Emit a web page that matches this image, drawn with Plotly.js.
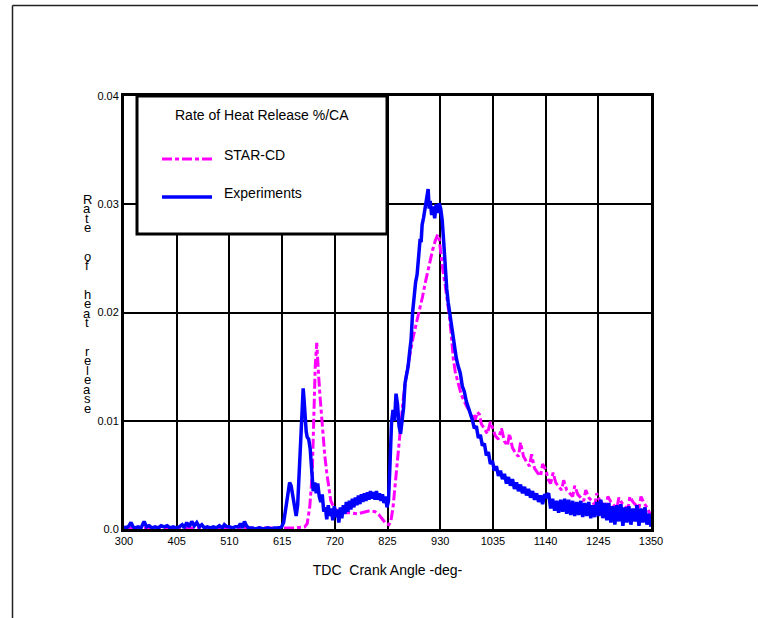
<!DOCTYPE html>
<html>
<head>
<meta charset="utf-8">
<script src="https://cdn.plot.ly/plotly-3.0.1.min.js"></script>
<style>html,body{margin:0;padding:0;background:#fff;}#chart{width:758px;height:618px;}</style>
</head>
<body>
<div id="chart"></div>
<script>
// Experiments (blue)
const expX = [300,305,310,314,318,322,328,334,340,345,350,356,362,368,374,380,386,392,398,404,410,416,420,425,430,435,440,445,450,455,460,466,472,478,484,490,496,500,505,510,516,522,528,532,536,540,544,548,555,562,570,578,586,594,600,608,614,618,622,626,630,633,636,640,643,646,649,652,655,657,659,661,663,665,668,671,674,677,680,683,686,689,692,695,698,701,704,707,710,713,716,719,722,725,728,731,734,737,740,743,746,749,752,755,758,761,764,767,770,773,776,779,782,785,788,791,794,797,800,803,806,809,812,815,818,821,824,827,830,833,836,839,842,845,848,851,854,857,860,863,866,869,872,875,878,881,884,887,890,892,894,897,900,903,906,908,910,913,916,919,922,925,928,931,934,937,940,943,946,950,954,958,962,966,970,974,978,982,986,990,994,998,1002,1006,1010,1014,1018,1022,1026,1030,1034,1038,1042,1046,1050,1054,1058,1062,1066,1070,1074,1078,1082,1086,1090,1094,1098,1102,1106,1110,1114,1118,1122,1126,1130,1134,1138,1142,1146,1150,1154,1158,1162,1166,1170,1174,1178,1182,1186,1190,1194,1198,1202,1206,1210,1214,1218,1222,1226,1230,1234,1238,1242,1246,1250,1254,1258,1262,1266,1270,1274,1278,1282,1286,1290,1294,1298,1302,1306,1310,1314,1318,1322,1326,1330,1334,1338,1342,1346,1350];
const expY = [0.0002,0.0001,0.0003,0.0006,0.0002,0.0001,0.0002,0.0001,0.0007,0.0002,0.0003,0.0001,0.0002,0.0001,0.0003,0.0002,0.0003,0.0001,0.0002,0.0001,0.0002,0.0004,0.0001,0.0006,0.0002,0.0007,0.0003,0.0006,0.0002,0.0004,0.0001,0.0002,0.0001,0.0002,0.0001,0.0003,0.0001,0.0004,0.0002,0.0002,0.0001,0.0002,0.0002,0.0005,0.0001,0.0007,0.0003,0.0001,0.0001,0.0000,0.0001,0.0000,0.0001,0.0000,0.0001,0.0001,0.0002,0.0006,0.0018,0.0033,0.0043,0.0040,0.0030,0.0018,0.0012,0.0022,0.0055,0.0090,0.0122,0.0130,0.0118,0.0100,0.0090,0.0085,0.0083,0.0074,0.0050,0.0035,0.0043,0.0033,0.0042,0.0030,0.0025,0.0032,0.0016,0.0020,0.0009,0.0022,0.0012,0.0019,0.0008,0.0021,0.0011,0.0018,0.0006,0.0020,0.0010,0.0022,0.0014,0.0025,0.0016,0.0026,0.0018,0.0028,0.0020,0.0029,0.0022,0.0031,0.0023,0.0032,0.0025,0.0033,0.0026,0.0034,0.0027,0.0035,0.0028,0.0034,0.0027,0.0035,0.0027,0.0033,0.0026,0.0032,0.0024,0.0030,0.0020,0.0026,0.0060,0.0098,0.0110,0.0100,0.0125,0.0115,0.0095,0.0088,0.0100,0.0112,0.0135,0.0142,0.0150,0.0163,0.0175,0.0200,0.0215,0.0228,0.0235,0.0252,0.0268,0.0265,0.0281,0.0288,0.0296,0.0305,0.0314,0.0296,0.0303,0.0290,0.0298,0.0287,0.0300,0.0292,0.0301,0.0296,0.0285,0.0265,0.0240,0.0222,0.0209,0.0195,0.0182,0.0170,0.0158,0.0150,0.0144,0.0132,0.0127,0.0118,0.0113,0.0106,0.0101,0.0093,0.0095,0.0084,0.0087,0.0077,0.0079,0.0068,0.0071,0.0060,0.0063,0.0054,0.0058,0.0049,0.0054,0.0046,0.0051,0.0042,0.0048,0.0040,0.0046,0.0037,0.0043,0.0035,0.0041,0.0033,0.0039,0.0031,0.0037,0.0029,0.0035,0.0027,0.0033,0.0025,0.0031,0.0023,0.0032,0.0030,0.0033,0.0019,0.0028,0.0017,0.0026,0.0015,0.0027,0.0016,0.0028,0.0014,0.0027,0.0013,0.0026,0.0012,0.0025,0.0013,0.0026,0.0011,0.0024,0.0012,0.0025,0.0010,0.0022,0.0011,0.0025,0.0012,0.0027,0.0010,0.0024,0.0008,0.0024,0.0006,0.0021,0.0004,0.0022,0.0007,0.0023,0.0003,0.0020,0.0006,0.0021,0.0004,0.0019,0.0007,0.0022,0.0003,0.0019,0.0006,0.0020,0.0004,0.0014,0.0002];

// STAR-CD (magenta)
const starX = [300,350,400,450,500,550,600,640,660,665,670,675,678,681,684,686,688,691,694,697,700,704,708,712,718,724,735,750,765,780,790,800,808,815,822,828,832,836,840,844,848,852,856,860,865,870,876,883,890,895,900,905,910,915,920,925,928,931,935,940,944,948,952,956,960,964,968,972,976,980,984,988,992,996,1000,1004,1008,1012,1016,1020,1024,1030,1034,1040,1046,1052,1058,1064,1068,1074,1080,1086,1090,1096,1102,1108,1112,1118,1124,1130,1134,1140,1146,1150,1155,1160,1166,1172,1176,1182,1188,1194,1198,1204,1210,1216,1220,1226,1232,1238,1242,1248,1254,1260,1264,1270,1276,1282,1286,1292,1298,1304,1308,1314,1320,1326,1330,1336,1342,1348,1350];
const starY = [0.0001,0.0001,0.0001,0.0001,0.0001,0.0001,0.0001,0.0001,0.0002,0.0005,0.0020,0.0050,0.0100,0.0150,0.0172,0.0160,0.0140,0.0120,0.0100,0.0085,0.0068,0.0052,0.0036,0.0026,0.0020,0.0017,0.0015,0.0015,0.0014,0.0016,0.0017,0.0016,0.0013,0.0009,0.0005,0.0004,0.0008,0.0020,0.0040,0.0062,0.0085,0.0100,0.0118,0.0135,0.0150,0.0162,0.0177,0.0190,0.0203,0.0215,0.0227,0.0238,0.0249,0.0258,0.0266,0.0272,0.0268,0.0255,0.0240,0.0225,0.0212,0.0198,0.0180,0.0158,0.0145,0.0138,0.0130,0.0124,0.0120,0.0115,0.0112,0.0110,0.0104,0.0106,0.0101,0.0108,0.0106,0.0097,0.0094,0.0090,0.0088,0.0099,0.0094,0.0086,0.0083,0.0093,0.0081,0.0077,0.0088,0.0075,0.0070,0.0067,0.0080,0.0067,0.0062,0.0058,0.0069,0.0056,0.0052,0.0049,0.0060,0.0055,0.0045,0.0042,0.0052,0.0043,0.0039,0.0036,0.0045,0.0036,0.0033,0.0030,0.0040,0.0032,0.0029,0.0026,0.0036,0.0029,0.0026,0.0022,0.0033,0.0026,0.0023,0.0020,0.0030,0.0025,0.0022,0.0019,0.0029,0.0024,0.0021,0.0018,0.0030,0.0025,0.0022,0.0019,0.0030,0.0024,0.0020,0.0015,0.0012];

const xTicks = [300,405,510,615,720,825,930,1035,1140,1245,1350];
const yTicks = [0,0.01,0.02,0.03,0.04];
const yTickText = ['0.0','0.01','0.02','0.03','0.04'];
const yTitleLetters = ['R','a','t','e','','','o','f','','','h','e','a','t','','','r','e','l','e','a','s','e'];

const L = 124, R = 651, T = 96, B = 529, W = 758, H = 618;
const px = v => (v - L) / (R - L);
const py = v => (B - v) / (B - T);

const traces = [
  {x: starX, y: starY, type: 'scatter', mode: 'lines', name: 'STAR-CD',
   line: {color: '#ff00ff', width: 3, dash: '10px,3px,4px,3px'}, showlegend: false},
  {x: expX, y: expY, type: 'scatter', mode: 'lines', name: 'Experiments',
   line: {color: '#0000ff', width: 3.5}, showlegend: false}
];

const font = {family: 'Liberation Sans, Arial, sans-serif', color: '#000'};

const annotations = [
  {xref: 'paper', yref: 'paper', x: px(262), y: py(115), text: 'Rate of Heat Release %/CA', showarrow: false,
   font: Object.assign({}, font, {size: 14}), xanchor: 'center', yanchor: 'middle'},
  {xref: 'paper', yref: 'paper', x: px(222), y: py(155), text: 'STAR-CD', showarrow: false,
   font: Object.assign({}, font, {size: 14}), xanchor: 'left', yanchor: 'middle'},
  {xref: 'paper', yref: 'paper', x: px(222), y: py(193), text: 'Experiments', showarrow: false,
   font: Object.assign({}, font, {size: 14}), xanchor: 'left', yanchor: 'middle'}
];
yTitleLetters.forEach((ch, i) => {
  if (!ch) return;
  annotations.push({xref: 'paper', yref: 'paper', x: px(87), y: py(199 + 9.5 * i), text: ch, showarrow: false,
    font: Object.assign({}, font, {size: 13}), xanchor: 'center', yanchor: 'middle'});
});

const shapes = [
  // outer frame lines
  {type: 'line', xref: 'paper', yref: 'paper', x0: px(12.5), x1: px(12.5), y0: py(5.5), y1: py(620), line: {color: '#222', width: 1.5}},
  {type: 'line', xref: 'paper', yref: 'paper', x0: px(12.5), x1: px(760), y0: py(5.5), y1: py(5.5), line: {color: '#222', width: 1.5}},
  // legend box
  {type: 'rect', xref: 'paper', yref: 'paper', x0: px(137), x1: px(387), y0: py(234), y1: py(96), layer: 'above',
   line: {color: '#000', width: 3}, fillcolor: '#fff'},
  {type: 'line', xref: 'paper', yref: 'paper', x0: px(162), x1: px(212), y0: py(159), y1: py(159), layer: 'above',
   line: {color: '#ff00ff', width: 3, dash: '10px,3px,4px,3px'}},
  {type: 'line', xref: 'paper', yref: 'paper', x0: px(162), x1: px(212), y0: py(197), y1: py(197), layer: 'above',
   line: {color: '#0000ff', width: 3.5}}
];

const layout = {
  width: W, height: H,
  margin: {l: L, r: W - R, t: T, b: H - B, pad: 0},
  paper_bgcolor: '#fff', plot_bgcolor: '#fff',
  font: Object.assign({}, font, {size: 11}),
  showlegend: false,
  xaxis: {
    range: [300, 1350], tickvals: xTicks, ticktext: xTicks.map(String),
    showgrid: true, gridcolor: '#000', gridwidth: 2, zeroline: false,
    showline: true, linecolor: '#000', linewidth: 3, mirror: true, ticks: '',
    tickfont: Object.assign({}, font, {size: 11}),
    title: {text: 'TDC&nbsp;&nbsp;Crank Angle -deg-', font: Object.assign({}, font, {size: 14}), standoff: 19}
  },
  yaxis: {
    range: [0, 0.04], tickvals: yTicks, ticktext: yTickText,
    showgrid: true, gridcolor: '#000', gridwidth: 2, zeroline: false,
    showline: true, linecolor: '#000', linewidth: 3, mirror: true, ticks: '',
    tickfont: Object.assign({}, font, {size: 11})
  },
  shapes: shapes,
  annotations: annotations
};

Plotly.newPlot('chart', traces, layout, {displayModeBar: false, staticPlot: true});
</script>
</body>
</html>
